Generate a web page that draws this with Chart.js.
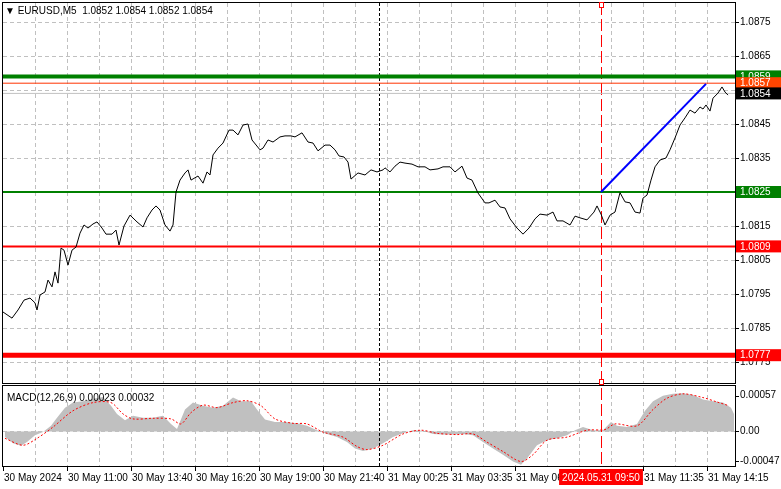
<!DOCTYPE html>
<html><head><meta charset="utf-8">
<script src="https://cdn.jsdelivr.net/npm/chart.js@4"></script>
<style>
html,body{margin:0;padding:0;background:#fff;width:781px;height:489px;overflow:hidden}
canvas{position:absolute;left:0;top:0}
</style></head><body>
<canvas id="c1" width="781" height="489"></canvas>
<canvas id="c2" width="781" height="489"></canvas>
<script>
// bar index (5-minute bars) and close price
const priceBars = [0,4.5,7.5,10.5,13.5,16,17,18.5,21,22.5,24.5,26,27.5,29,30.5,32.5,34.5,36.5,38.5,40.5,42.5,45,47,49.5,51.5,54.5,56.5,58,60.5,63.5,67,70,72,74.5,76.5,78.5,81,83.5,85,86.5,88.5,91,92.5,94,97.5,100,102,103.5,105,107.5,110,113,115,117.5,120,122.5,124.5,128.5,130,132.5,135,138.5,141,144,146,149.5,152.5,155,157.5,161,163.5,166,168,170.5,172.5,174,177.5,181,184,187,190,191,193.5,196,198.5,201,204.5,207.5,211,213.5,217.5,220,223.5,226,229.5,232,234.5,237.5,241,243,246,248.5,251,253.5,257,260,263,266,268.5,272,275,277,280,283.5,286,288.5,292,295.5,297,299,301,303.5,306,308.5,311,313.5,316,318.5,320,322,324,326,328.5,331.5,333.5,336,338.5,341,343.5,346,348.5,350,351.5,353.5,355,357.5,359.5,361,362.5];
const prices = [1.07897,1.07879,1.07903,1.07932,1.07938,1.07924,1.07903,1.07947,1.07956,1.07991,1.07971,1.08015,1.07982,1.08085,1.08079,1.08035,1.08079,1.08088,1.08129,1.08153,1.08144,1.08156,1.08162,1.08144,1.08126,1.08126,1.08138,1.08094,1.08150,1.08182,1.08162,1.08147,1.08174,1.08197,1.08209,1.08197,1.08153,1.08135,1.08153,1.08250,1.08285,1.08306,1.08315,1.08285,1.08297,1.08276,1.08309,1.08300,1.08359,1.08379,1.08394,1.08432,1.08432,1.08418,1.08447,1.08450,1.08403,1.08374,1.08379,1.08403,1.08397,1.08412,1.08415,1.08415,1.08412,1.08424,1.08397,1.08394,1.08371,1.08388,1.08388,1.08374,1.08356,1.08353,1.08338,1.08288,1.08306,1.08300,1.08315,1.08309,1.08315,1.08321,1.08309,1.08326,1.08338,1.08335,1.08332,1.08324,1.08324,1.08315,1.08318,1.08324,1.08324,1.08309,1.08326,1.08291,1.08285,1.08247,1.08218,1.08218,1.08226,1.08206,1.08203,1.08171,1.08144,1.08126,1.08144,1.08171,1.08185,1.08182,1.08191,1.08165,1.08165,1.08153,1.08179,1.08174,1.08168,1.08191,1.08209,1.08185,1.08153,1.08182,1.08191,1.08248,1.08221,1.08218,1.08191,1.08188,1.08232,1.08241,1.08285,1.08324,1.08344,1.08350,1.08374,1.08409,1.08447,1.08468,1.08491,1.08482,1.08500,1.08494,1.08506,1.08488,1.08526,1.08541,1.08559,1.08544,1.08535,1.08541,1.08518,1.08512,1.08535];
const trendBars = [299,351.5];
const trendPrices = [1.0825,1.08568];
const levels = [
  {v:1.0859,color:'#008000',w:4,label:'1.0859',bg:'#008000',fg:'#fff'},
  {v:1.0857,color:'#ff3300',w:1,label:'1.0857',bg:'#ff4500',fg:'#fff'},
  {v:1.0854,color:'#c0c0c0',w:1,label:'1.0854',bg:'#000',fg:'#fff'},
  {v:1.0825,color:'#008000',w:2,label:'1.0825',bg:'#008000',fg:'#fff'},
  {v:1.0809,color:'#ff0000',w:2,label:'1.0809',bg:'#ff0000',fg:'#fff'},
  {v:1.0777,color:'#ff0000',w:5,label:'1.0777',bg:'#ff0000',fg:'#fff'}
];
const priceTicks = [1.0775,1.0785,1.0795,1.0805,1.0815,1.0825,1.0835,1.0845,1.0855,1.0865,1.0875];
const priceTickLabels = ['1.0775','1.0785','1.0795','1.0805','1.0815','1.0825','1.0835','1.0845','','1.0865','1.0875'];
// MACD
const histBars = [1,5,9,12,16,20,24,27,31,35,40,45,50,54,57,61,65,70,75,80,84,87,91,95,100,105,110,115,119,124,127,131,136,141,147,152,157,162,167,172,176,180,185,190,195,200,205,210,215,220,225,230,235,240,245,250,255,259,262,267,272,277,282,286,290,295,300,304,307,312,317,321,325,330,335,340,345,350,355,360,364,365.5];
const hist = [-0.00009,-0.00019,-0.00023,-0.00017,-0.00006,-0.00001,0.00009,0.00022,0.00038,0.00046,0.00048,0.00052,0.00055,0.00041,0.00028,0.00018,0.00025,0.00022,0.00022,0.00025,0.00012,0.00004,0.00035,0.00046,0.00041,0.00038,0.00041,0.00054,0.00048,0.00048,0.00035,0.00019,0.00015,0.00015,0.00013,0.00009,0.00002,-0.00004,-0.00009,-0.00017,-0.00027,-0.00031,-0.00027,-0.00019,-0.00009,-0.00003,0.00002,0.00001,-0.00004,-0.00005,-0.00005,-0.00004,-0.00006,-0.00017,-0.00027,-0.00037,-0.00048,-0.00053,-0.00043,-0.00022,-0.00014,-0.00011,-0.00006,0.00002,0.00007,0.00002,0.00002,0.00015,0.00009,0.00007,0.00012,0.00033,0.00048,0.00057,0.00060,0.00061,0.00058,0.00051,0.00048,0.00046,0.00038,0.00028];
const sigBars = [1,10,17,25,35,45,54,60,65,75,84,89,94,100,107,115,122,129,136,145,152,160,170,177,182,190,200,209,217,227,235,242,250,259,265,272,282,292,301,306,317,325,332,340,350,357,363];
const signal = [-0.00011,-0.00022,-0.00011,0.00007,0.00033,0.00046,0.00046,0.00028,0.00020,0.00021,0.00020,0.00012,0.00030,0.00042,0.00038,0.00046,0.00049,0.00041,0.00020,0.00013,0.00012,-0.00001,-0.00009,-0.00024,-0.00029,-0.00022,-0.00004,0.00002,-0.00003,-0.00005,-0.00004,-0.00017,-0.00032,-0.00048,-0.00037,-0.00014,-0.00009,0.00002,0.00003,0.00012,0.00009,0.00035,0.00053,0.00060,0.00054,0.00047,0.00041];
const macdTicks = [0.00057,0,-0.00047];
const macdTickLabels = ['0.00057','0.00','-0.00047'];
const timeBars = [0,32,64,96,128,160,192,224,256,320,352];
const timeLabels = ['30 May 2024','30 May 11:00','30 May 13:40','30 May 16:20','30 May 19:00','30 May 21:40','31 May 00:25','31 May 03:35','31 May 06:05','31 May 11:35','31 May 14:15'];
const markBar = 299, markLabel = '2024.05.31 09:50';
const sepBar = 188;

const FONT = '10px "Liberation Sans"';
const XMAX = 366;
const pts = (xs,ys)=>xs.map((x,i)=>({x,y:ys[i]}));

function vgrid(chart){
  const {ctx,chartArea:a,scales:{x}} = chart;
  ctx.save();ctx.strokeStyle='#c0c0c0';ctx.lineWidth=1;ctx.setLineDash([4,3]);
  for(let b=16;b<XMAX;b+=16){const px=Math.round(x.getPixelForValue(b))+0.5;ctx.beginPath();ctx.moveTo(px,a.top);ctx.lineTo(px,a.bottom);ctx.stroke();}
  ctx.restore();
}
function vmarks(chart){
  const {ctx,chartArea:a,scales:{x}} = chart;
  ctx.save();
  let px=Math.round(x.getPixelForValue(sepBar))+0.5;
  ctx.strokeStyle='#000';ctx.setLineDash([3,2]);ctx.beginPath();ctx.moveTo(px,a.top);ctx.lineTo(px,a.bottom);ctx.stroke();
  px=Math.round(x.getPixelForValue(markBar))+0.5;
  ctx.strokeStyle='#ff0000';ctx.setLineDash([12,4]);ctx.beginPath();ctx.moveTo(px,a.top);ctx.lineTo(px,a.bottom);ctx.stroke();
  ctx.restore();
}
const pricePlugin = {
  id:'pp',
  beforeDatasetsDraw(chart){
    const {ctx,chartArea:a,scales:{y}} = chart;
    ctx.save();ctx.strokeStyle='#c0c0c0';ctx.setLineDash([4,3]);ctx.lineWidth=1;
    priceTicks.forEach(v=>{const py=Math.round(y.getPixelForValue(v))+0.5;ctx.beginPath();ctx.moveTo(a.left,py);ctx.lineTo(a.right,py);ctx.stroke();});
    ctx.restore();
    vgrid(chart);vmarks(chart);
    ctx.save();
    levels.forEach(l=>{const py=y.getPixelForValue(l.v);ctx.strokeStyle=l.color;ctx.lineWidth=l.w;ctx.beginPath();ctx.moveTo(a.left,py);ctx.lineTo(a.right,py);ctx.stroke();});
    ctx.restore();
  },
  afterDraw(chart){
    const {ctx,chartArea:a,scales:{x,y}} = chart;
    ctx.save();
    ctx.strokeStyle='#000';ctx.lineWidth=1;ctx.strokeRect(2.5,2.5,a.right-2,a.bottom-2);
    ctx.font=FONT;ctx.textBaseline='middle';ctx.fillStyle='#000';
    priceTicks.forEach((v,i)=>{if(!priceTickLabels[i])return;const py=y.getPixelForValue(v);ctx.fillRect(a.right,Math.round(py),4,1);ctx.fillText(priceTickLabels[i],a.right+5,py);});
    levels.forEach(l=>{const py=y.getPixelForValue(l.v);ctx.fillStyle=l.bg;ctx.fillRect(a.right+1,py-6,45,12);ctx.fillStyle=l.fg;ctx.fillText(l.label,a.right+5,py+0.5);});
    const px=Math.round(x.getPixelForValue(markBar));
    ctx.strokeStyle='#ff0000';ctx.fillStyle='#fff';
    ctx.fillRect(px-2,2,5,6);ctx.strokeRect(px-1.5,2.5,4,5);
    ctx.fillRect(px-2,a.bottom-4,5,6);ctx.strokeRect(px-1.5,a.bottom-3.5,4,5);
    ctx.fillStyle='#000';ctx.font=FONT;ctx.textBaseline='middle';
    ctx.fillText('▼ EURUSD,M5  1.0852 1.0854 1.0852 1.0854',5,11);
    ctx.restore();
  }
};
new Chart(document.getElementById('c1'),{
  type:'line',
  data:{datasets:[
    {data:pts(priceBars,prices),borderColor:'#000',borderWidth:1,pointRadius:0,tension:0},
    {data:pts(trendBars,trendPrices),borderColor:'#0000ff',borderWidth:2,pointRadius:0}
  ]},
  options:{animation:false,responsive:false,
    layout:{padding:{left:3,top:3,right:46,bottom:106}},
    plugins:{legend:{display:false},tooltip:{enabled:false}},
    scales:{x:{type:'linear',min:0,max:XMAX,display:false},y:{min:1.076882,max:1.088059,display:false}}},
  plugins:[pricePlugin]
});
const macdPlugin = {
  id:'mp',
  beforeDatasetsDraw(chart){
    const {ctx,chartArea:a,scales:{y}} = chart;
    vgrid(chart);
    ctx.save();ctx.strokeStyle='#c0c0c0';ctx.setLineDash([4,3]);
    const py=Math.round(y.getPixelForValue(0))+0.5;ctx.beginPath();ctx.moveTo(a.left,py);ctx.lineTo(a.right,py);ctx.stroke();
    ctx.restore();
  },
  afterDatasetsDraw(chart){vmarks(chart);},
  afterDraw(chart){
    const {ctx,chartArea:a,scales:{x,y}} = chart;
    ctx.save();
    ctx.strokeStyle='#000';ctx.lineWidth=1;ctx.strokeRect(2.5,a.top-2.5,a.right-2,a.bottom-a.top+3);
    ctx.font=FONT;ctx.textBaseline='middle';ctx.fillStyle='#000';
    macdTicks.forEach((v,i)=>{const py=y.getPixelForValue(v);ctx.fillRect(a.right,Math.round(py),4,1);ctx.fillText(macdTickLabels[i],a.right+5,py);});
    ctx.fillText('MACD(12,26,9) 0.00023 0.00032',7,a.top+10);
    timeBars.forEach((b,i)=>{const px=Math.round(x.getPixelForValue(b));ctx.fillRect(px,a.bottom+1,1,4);ctx.fillText(timeLabels[i],px+1,a.bottom+12);});
    const px=Math.round(x.getPixelForValue(markBar));
    const w=ctx.measureText(markLabel).width+6;
    ctx.fillStyle='#ff0000';ctx.fillRect(px-w/2,a.bottom+3,w,16);
    ctx.fillStyle='#fff';ctx.textAlign='center';ctx.fillText(markLabel,px,a.bottom+12);
    ctx.restore();
  }
};
new Chart(document.getElementById('c2'),{
  type:'line',
  data:{datasets:[
    {data:pts(sigBars,signal),borderColor:'#ff0000',borderWidth:1,borderDash:[2,2],pointRadius:0,tension:0.3,fill:false},
    {data:pts(histBars,hist),borderWidth:0,borderColor:'rgba(0,0,0,0)',backgroundColor:'#c0c0c0',pointRadius:0,fill:'origin',tension:0}
  ]},
  options:{animation:false,responsive:false,
    layout:{padding:{left:3,top:388,right:46,bottom:23}},
    plugins:{legend:{display:false},tooltip:{enabled:false}},
    scales:{x:{type:'linear',min:0,max:XMAX,display:false},y:{min:-0.000551,max:0.000693,display:false}}},
  plugins:[macdPlugin]
});
</script></body></html>
